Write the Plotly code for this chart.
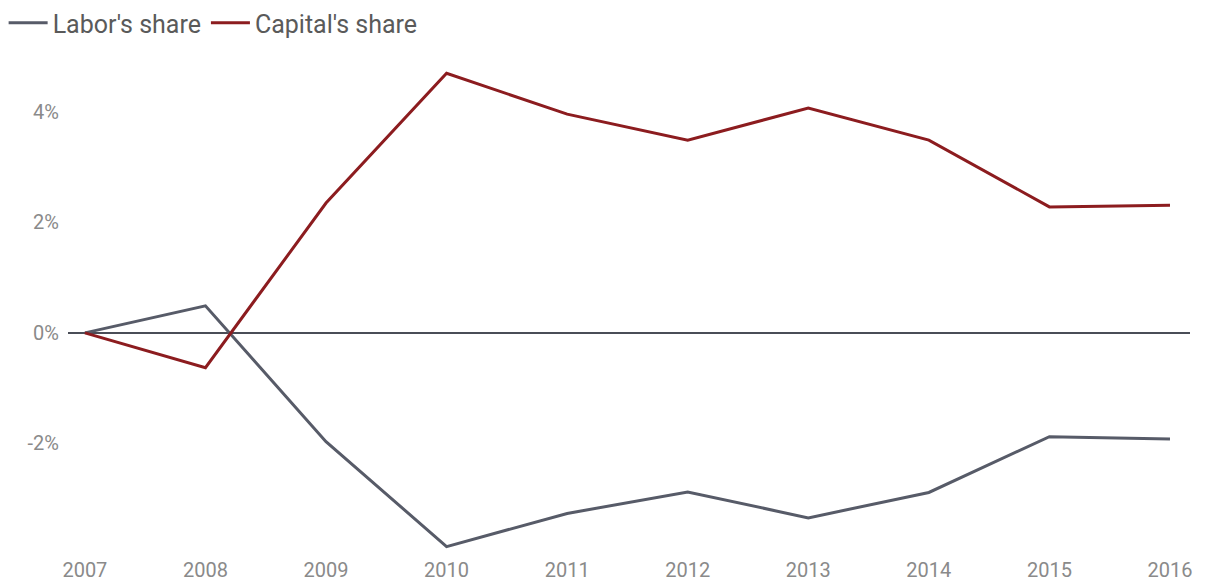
import plotly.graph_objects as go

years = [2007, 2008, 2009, 2010, 2011, 2012, 2013, 2014, 2015, 2016]
labor_share = [0.0, 0.49, -1.97, -3.87, -3.27, -2.88, -3.35, -2.89, -1.88, -1.92]
capital_share = [0.0, -0.63, 2.35, 4.70, 3.96, 3.49, 4.07, 3.49, 2.28, 2.31]
y_ticks = [-2, 0, 2, 4]
y_tick_labels = ["-2%", "0%", "2%", "4%"]

fig = go.Figure()
fig.add_trace(go.Scatter(x=years, y=labor_share, mode="lines", name="Labor's share",
                         line=dict(color="#575b68", width=3)))
fig.add_trace(go.Scatter(x=years, y=capital_share, mode="lines", name="Capital's share",
                         line=dict(color="#8c1c1f", width=3)))

fig.update_layout(
    width=1209, height=583,
    margin=dict(l=68, r=19, t=65, b=32),
    paper_bgcolor="white", plot_bgcolor="white",
    font=dict(family="Roboto", size=20, color="#8a8a8a"),
    legend=dict(orientation="h", x=0.003, y=1, xref="container", yref="container",
                xanchor="left", yanchor="top", font=dict(size=25, color="#5a5a5a"),
                itemwidth=39, tracegroupgap=0, bgcolor="rgba(0,0,0,0)"),
    xaxis=dict(range=[2006.86, 2016.166], tickvals=years, ticktext=[str(y) for y in years],
               showgrid=False, zeroline=False, showline=False, ticks="",
               ticklabelstandoff=5, automargin=False, fixedrange=True),
    yaxis=dict(range=[-3.95, 4.85], tickvals=y_ticks, ticktext=y_tick_labels,
               showgrid=False, zeroline=True, zerolinecolor="#4a4d57", zerolinewidth=1.5,
               showline=False, ticks="", ticklabelstandoff=8, automargin=False),
)

fig.write_html("out.html")
